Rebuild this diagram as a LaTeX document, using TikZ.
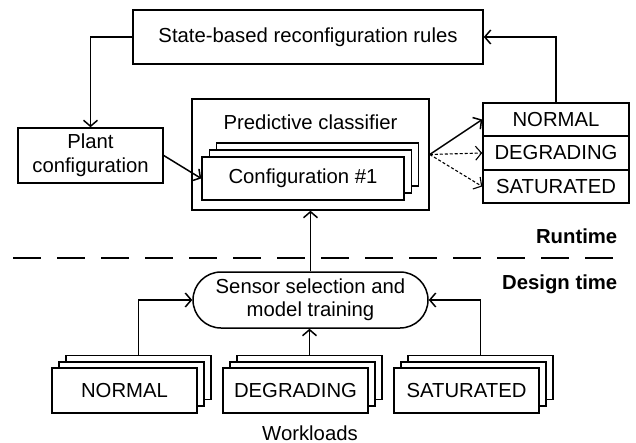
\documentclass[tikz,border=0pt]{standalone}
\usepackage{fontspec}
\setmainfont{Liberation Sans}
\usetikzlibrary{arrows.meta,shapes.misc}
\begin{document}
\begin{tikzpicture}[x=1pt,y=-1pt,
  font=\fontsize{20.3}{23.5}\selectfont, line width=1.5pt,
  box/.style={draw, fill=white, inner sep=0pt, align=center},
  arr/.style={-{Straight Barb[length=6pt,width=14pt]}},
  darr/.style={arr, line width=1.1pt, dash pattern=on 3pt off 2pt},
  lbl/.style={inner sep=0pt, align=center},
]
\useasboundingbox (0,0) rectangle (636,443);
% top rules box
\node[box, minimum width=350, minimum height=54] (rules) at (308,37) {State-based reconfiguration rules};
% plant configuration
\node[box, minimum width=145, minimum height=55] (plant) at (90.5,155.5) {Plant\\configuration};
% predictive classifier
\node[box, minimum width=237, minimum height=111] (clf) at (310.5,154.5) {};
\node[lbl] (ctitle) at (310.5,122) {Predictive classifier};
\node[box, minimum width=202, minimum height=43] (cfg3) at (317.5,164.5) {};
\node[box, minimum width=202, minimum height=43] (cfg2) at (310.5,171.5) {};
\node[box, minimum width=202, minimum height=43] (cfg1) at (303,178.5) {Configuration \#1};
% state column
\node[box, minimum width=146, minimum height=33] (normal) at (556,119.5) {NORMAL};
\node[box, minimum width=146, minimum height=34] (degr) at (556,153) {DEGRADING};
\node[box, minimum width=146, minimum height=33] (satur) at (556,186.5) {SATURATED};
% separator
\coordinate (sepL) at (13,258);
\coordinate (sepR) at (619,258);
\draw[dash pattern=on 28pt off 16pt] (sepL) -- (sepR);
\node[lbl, anchor=east, font=\fontsize{20.3}{23.5}\selectfont\bfseries] (runtime) at (618,236) {Runtime};
\node[lbl, anchor=east, font=\fontsize{20.3}{23.5}\selectfont\bfseries] (design) at (618,284) {Design time};
% sensor selection
\node[draw, fill=white, rounded rectangle, inner sep=0pt, align=center, minimum width=235, minimum height=56] (sensor) at (310.5,300) {Sensor selection and\\model training};
% workloads
\foreach \n/\x/\t in {wn/124.5/NORMAL, wd/295.5/DEGRADING, ws/466.5/SATURATED}{
  \node[box, minimum width=145, minimum height=44] (\n3) at (\x+14,377.5) {};
  \node[box, minimum width=145, minimum height=44] (\n2) at (\x+7,384) {};
  \node[box, minimum width=145, minimum height=45] (\n1) at (\x,390.5) {\t};
}
\node[inner sep=0pt, anchor=base] (workloads) at (310,440) {Workloads};
% connectors
\draw[arr] (normal.north) |- (rules.east);
\draw[arr] (rules.west) -| (plant.north);
\draw[arr] (plant.east) -- (cfg1.west);
\draw[arr] (clf.east) -- (normal.west);
\draw[darr] (clf.east) -- (degr.west);
\draw[darr] (clf.east) -- (satur.west);
\draw[arr] (sensor.north) -- (clf.south);
\draw[arr] (wn3.north) |- (sensor.west);
\draw[arr] (wd3.north) -- (wd3.north |- sensor.south);
\draw[arr] (ws3.north) |- (sensor.east);
\end{tikzpicture}
\end{document}
